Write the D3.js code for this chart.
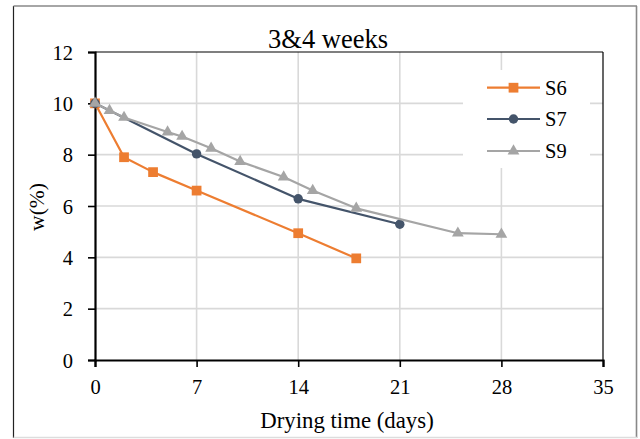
<!DOCTYPE html>
<html><head><meta charset="utf-8">
<script src="https://cdn.jsdelivr.net/npm/d3@7"></script>
<style>
html,body{margin:0;padding:0;background:#fff;}
svg{display:block;}
text{font-family:"Palatino Linotype","Book Antiqua",Palatino,"Liberation Serif","DejaVu Serif",serif;fill:#000;}
</style></head>
<body>
<script>
const titleText = "3&4 weeks";
const xLabel = "Drying time (days)";
const yLabel = "w(%)";
const xTicks = [0, 7, 14, 21, 28, 35];
const yTicks = [0, 2, 4, 6, 8, 10, 12];
const s6Days = [0, 2, 4, 7, 14, 18];
const s6Vals = [10.0, 7.9, 7.32, 6.6, 4.94, 3.96];
const s7Days = [0, 7, 14, 21];
const s7Vals = [10.0, 8.03, 6.28, 5.29];
const s9Days = [0, 1, 2, 5, 6, 8, 10, 13, 15, 18, 25, 28];
const s9Vals = [10.0, 9.72, 9.45, 8.88, 8.71, 8.25, 7.73, 7.13, 6.6, 5.91, 4.94, 4.9];
const seriesNames = ["S6", "S7", "S9"];
const seriesColors = ["#ED7D31", "#44546A", "#A5A5A5"];
const seriesMarkers = ["square", "circle", "triangle"];

const W = 640, H = 439;
const svg = d3.select("body").append("svg").attr("width", W).attr("height", H);
svg.append("rect").attr("width", W).attr("height", H).attr("fill", "#fff");

// outer frame
svg.append("line").attr("x1",13.5).attr("x2",13.5).attr("y1",6).attr("y2",438).attr("stroke","#222").attr("stroke-width",1.2);
svg.append("line").attr("x1",13.5).attr("x2",637).attr("y1",6).attr("y2",6).attr("stroke","#888").attr("stroke-width",1.4);
svg.append("line").attr("x1",636.5).attr("x2",636.5).attr("y1",6).attr("y2",438).attr("stroke","#888").attr("stroke-width",1.6);
svg.append("line").attr("x1",13.5).attr("x2",637).attr("y1",437.5).attr("y2",437.5).attr("stroke","#ddd").attr("stroke-width",1.4);

const x = d3.scaleLinear().domain([0, 35]).range([95, 603]);
const y = d3.scaleLinear().domain([0, 12]).range([360, 52]);

// grid
svg.append("g").selectAll("line").data(xTicks.filter(d => d > 0 && d < 35)).join("line")
  .attr("x1", d => x(d)).attr("x2", d => x(d)).attr("y1", y(0)).attr("y2", y(12))
  .attr("stroke", "#d9d9d9").attr("stroke-width", 1.6);
svg.append("g").selectAll("line").data(yTicks.filter(d => d > 0 && d < 12)).join("line")
  .attr("x1", x(0)).attr("x2", x(35)).attr("y1", d => y(d)).attr("y2", d => y(d))
  .attr("stroke", "#d9d9d9").attr("stroke-width", 1.6);

// top/right frame
svg.append("line").attr("x1", x(0)).attr("x2", x(35)).attr("y1", y(12)).attr("y2", y(12)).attr("stroke", "#000").attr("stroke-width", 1.2);
svg.append("line").attr("x1", x(35)).attr("x2", x(35)).attr("y1", y(12)).attr("y2", y(0)).attr("stroke", "#000").attr("stroke-width", 1.2);

// axes
const xAxis = d3.axisBottom(x).tickValues(xTicks).tickSize(7).tickPadding(12).tickFormat(d3.format("d"));
const gx = svg.append("g").attr("transform", `translate(0,${y(0)})`).call(xAxis);
const yAxis = d3.axisLeft(y).tickValues(yTicks).tickSize(7).tickPadding(15).tickFormat(d3.format("d"));
const gy = svg.append("g").attr("transform", `translate(${x(0)},0)`).call(yAxis);
[gx, gy].forEach(g => {
  g.select(".domain").attr("stroke", "#000").attr("stroke-width", 2.2);
  g.selectAll(".tick line").attr("stroke", "#000").attr("stroke-width", 1.6);
  g.selectAll(".tick text").attr("font-size", 20.5).attr("fill", "#000")
    .style("font-family", '"Palatino Linotype","Book Antiqua",Palatino,"Liberation Serif",serif');
});
gy.selectAll(".tick text").attr("dy", "0.35em");

// legend background
svg.append("rect").attr("x", 463).attr("y", 70).attr("width", 127).attr("height", 98).attr("fill", "#fff");

// series
const allData = [
  s6Days.map((d, i) => [d, s6Vals[i]]),
  s7Days.map((d, i) => [d, s7Vals[i]]),
  s9Days.map((d, i) => [d, s9Vals[i]])
];
const line = d3.line().x(d => x(d[0])).y(d => y(d[1]));
const symType = {square: d3.symbolSquare, circle: d3.symbolCircle, triangle: d3.symbolTriangle};
const symSize = {square: 95, circle: 70, triangle: 60};

allData.forEach((data, i) => {
  svg.append("path").datum(data).attr("d", line).attr("fill", "none")
    .attr("stroke", seriesColors[i]).attr("stroke-width", 2.2).attr("stroke-linejoin", "round");
  svg.append("g").selectAll("path").data(data).join("path")
    .attr("transform", d => `translate(${x(d[0])},${y(d[1])})`)
    .attr("d", d3.symbol().type(symType[seriesMarkers[i]]).size(symSize[seriesMarkers[i]]))
    .attr("fill", seriesColors[i]);
});

// legend
const legY = [87.7, 119, 151];
seriesNames.forEach((n, i) => {
  svg.append("line").attr("x1", 487).attr("x2", 540).attr("y1", legY[i]).attr("y2", legY[i])
    .attr("stroke", seriesColors[i]).attr("stroke-width", 2.2);
  svg.append("path").attr("transform", `translate(513.5,${legY[i]})`)
    .attr("d", d3.symbol().type(symType[seriesMarkers[i]]).size(symSize[seriesMarkers[i]]))
    .attr("fill", seriesColors[i]);
  svg.append("text").attr("x", 545).attr("y", legY[i]).attr("dy", "0.35em")
    .attr("font-size", 20.5).text(n);
});

// title
svg.append("text").attr("x", 328).attr("y", 47.5).attr("text-anchor", "middle")
  .attr("font-size", 26.5).text(titleText);
// axis titles
svg.append("text").attr("x", 347).attr("y", 428).attr("text-anchor", "middle")
  .attr("font-size", 22.8).text(xLabel);
svg.append("text").attr("transform", "translate(44,207) rotate(-90)").attr("text-anchor", "middle")
  .attr("font-size", 21.5).text(yLabel);
</script>
</body></html>
